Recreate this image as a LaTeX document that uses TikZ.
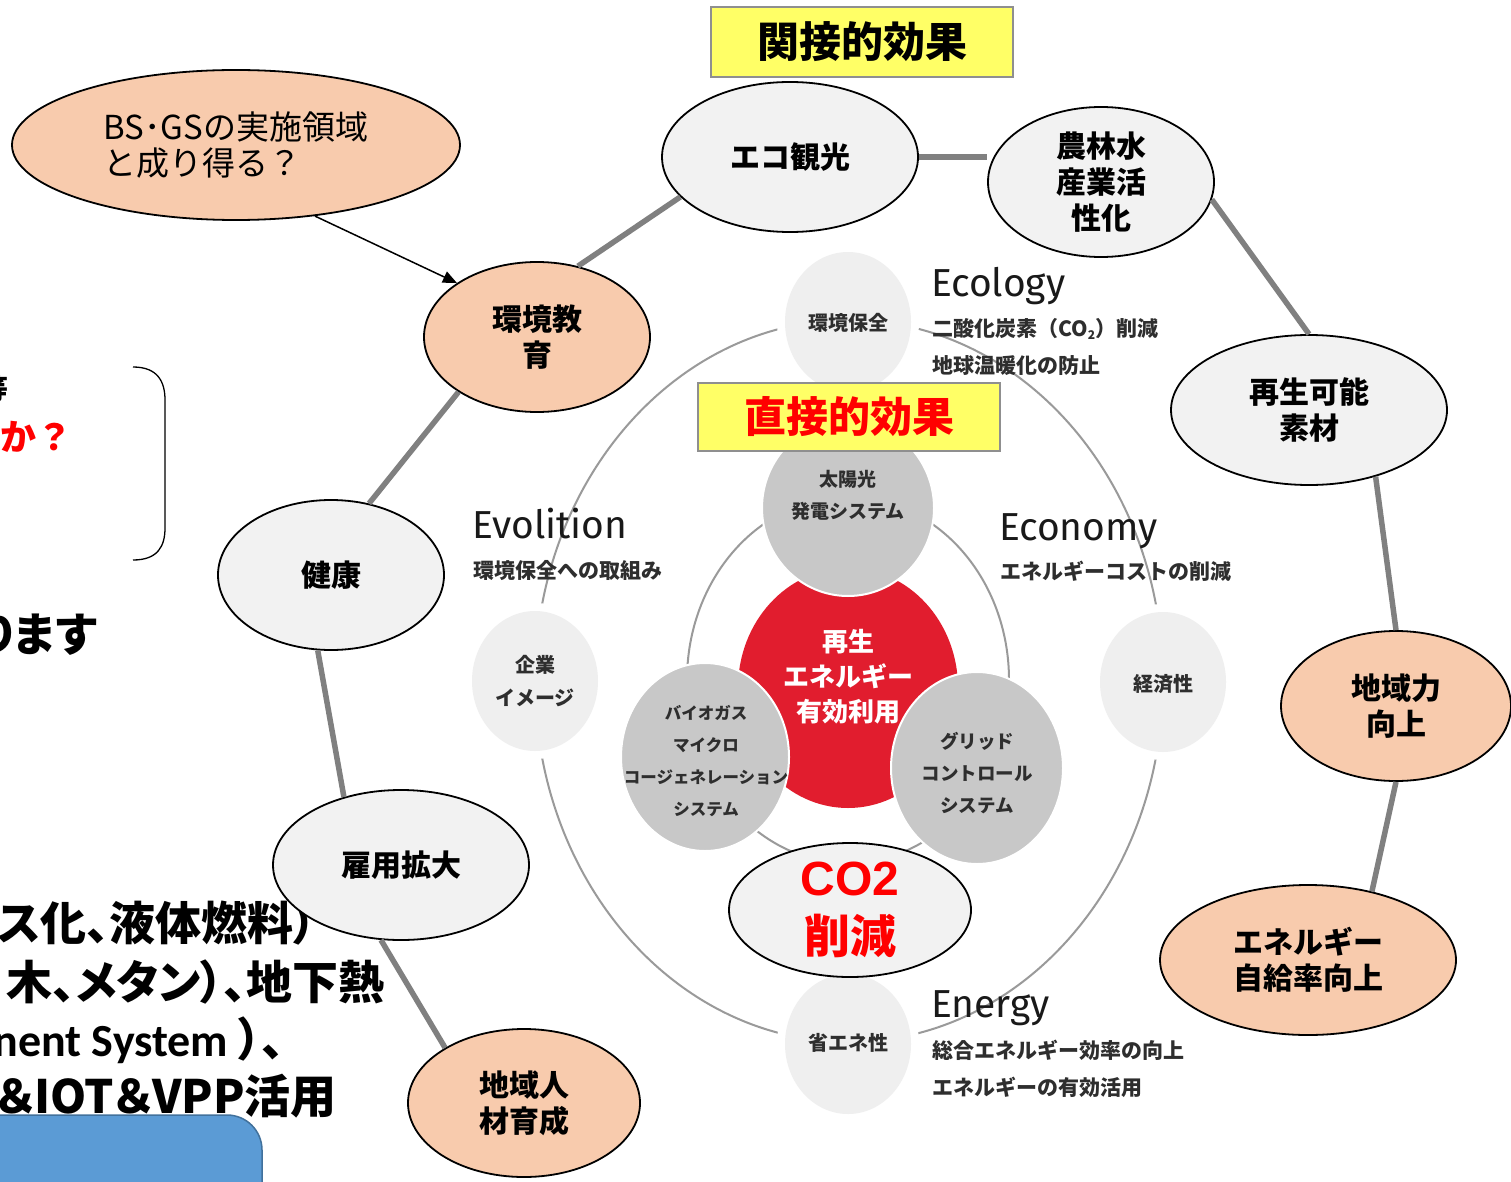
\documentclass[tikz,border=0pt]{standalone}
\usepackage{fontspec}
\usetikzlibrary{shapes.geometric,arrows.meta}
\newfontfamily\jp{Noto Sans CJK JP}
\newfontfamily\jpp{Noto Sans CJK JP}[RawFeature=+palt]
\newfontfamily\dinf{Fira Sans}
\newfontfamily\arialf{Liberation Sans}
\newfontfamily\calf{Carlito}
\newcommand\myfs[2]{\fontsize{#1pt}{#2pt}\selectfont}
\definecolor{peach}{HTML}{F8CBAD}
\definecolor{ovgray}{HTML}{F2F2F2}
\definecolor{linkgray}{HTML}{808080}
\definecolor{yel}{HTML}{FFFF66}
\definecolor{boxgray}{HTML}{8F8F8F}
\definecolor{bluec}{HTML}{5B9BD5}
\definecolor{bluedk}{HTML}{41719C}
\definecolor{ringc}{HTML}{9A9A9A}
\definecolor{lightc}{HTML}{EFEFEF}
\definecolor{midc}{HTML}{C8C8C8}
\definecolor{redc}{HTML}{E11D2E}
\definecolor{darkt}{HTML}{2E2E2E}
\tikzset{
  oval/.style={ellipse, draw=black, line width=1.8pt, inner sep=0pt, align=center, font={\jp\bfseries\myfs{30}{36}}},
  grayoval/.style={oval, fill=ovgray},
  peachoval/.style={oval, fill=peach},
  link/.style={draw=linkgray, line width=5.5pt},
  ybox/.style={rectangle, draw=boxgray, line width=1.5pt, fill=yel, inner sep=0pt, font={\jp\bfseries\myfs{42}{42}}},
  ctext/.style={inner sep=0pt, align=center, text=darkt, font={\jp\bfseries\myfs{20}{33}}},
  subtext/.style={inner sep=0pt, anchor=west, text=darkt, font={\jp\bfseries\myfs{21}{21}}},
  bigword/.style={inner sep=0pt, anchor=base west, text=black!90, font={\dinf\myfs{39}{39}}},
  lefttxt/.style={inner sep=0pt, anchor=east, font={\jpp\bfseries\myfs{46}{46}}}
}
\begin{document}
\begin{tikzpicture}[x=1pt,y=-1pt]
\useasboundingbox (0,0) rectangle (1511,1182);
\fill[white] (0,0) rectangle (1511,1182);

% left-edge texts (partly outside the page)
\node[lefttxt, font={\jpp\bfseries\myfs{28}{28}}] (l1) at (9,389) {等};
\node[lefttxt, text=red, font={\jp\bfseries\myfs{36}{36}}] (l2) at (73,437) {か？};
\node[lefttxt] (l3) at (97,635) {ります};
\node[lefttxt] (l4) at (294,923) {ス化、液体燃料\rlap{）}};
\node[lefttxt] (l5) at (385,982) {木、メタン）、地下熱};
\node[lefttxt] (l6) at (285,1040) {{\calf\bfseries nent System} ）、};
\node[lefttxt] (l7) at (337,1096) {＆IOT＆VPP活用};

% bracket
\coordinate (bt) at (133,367);
\coordinate (bb) at (133,560);
\draw[line width=1.3pt] (bt) .. controls (158,367) and (165,382) .. (165,400) -- (165,528) .. controls (165,546) and (158,560) .. (bb);

% blue box
\draw[fill=bluec, draw=bluedk, line width=1.5pt, rounded corners=35pt] (-60,1115) rectangle (262,1260);

% central diagram
\draw[ringc, line width=2pt] (849,681) ellipse [x radius=314pt, y radius=361pt];
\foreach \cx/\cy in {848/322, 535/681, 1163/682, 848/1044}{
  \fill[white] (\cx,\cy) ellipse [x radius=71pt, y radius=78pt];
  \fill[lightc] (\cx,\cy) ellipse [x radius=63pt, y radius=70pt];
}
\draw[ringc, line width=2pt] (848,680) ellipse [x radius=161pt, y radius=183pt];
\fill[redc] (848,688) ellipse [x radius=110pt, y radius=120pt];
\filldraw[fill=midc, draw=white, line width=2pt] (848,508) ellipse [x radius=86pt, y radius=88pt];
\filldraw[fill=midc, draw=white, line width=2pt] (705,757) ellipse [x radius=84pt, y radius=94pt];
\filldraw[fill=midc, draw=white, line width=2pt] (977,768) ellipse [x radius=86pt, y radius=96pt];

\node[ctext] (hozen) at (848,323) {環境保全};
\node[ctext] (kigyo) at (535,681) {企業\\イメージ};
\node[ctext] (keizai) at (1163,684) {経済性};
\node[ctext] (shoene) at (848,1043) {省エネ性};
\node[ctext, font={\jp\bfseries\myfs{19}{32}}] (taiyo) at (848,495) {太陽光\\発電システム};
\node[ctext, text=white, font={\jp\bfseries\myfs{26}{35}}] (saien) at (848,677) {再生\\エネルギー\\有効利用};
\node[ctext, font={\jp\bfseries\myfs{16.5}{32}}] (bio) at (706,761) {バイオガス\\マイクロ\\コージェネレーション\\システム};
\node[ctext, font={\jp\bfseries\myfs{18.5}{32}}] (grid) at (977,773) {グリッド\\コントロール\\システム};

\node[bigword] (ecol) at (931,296) {Ecology};
\node[subtext] (ecol1) at (932,329) {二酸化炭素（CO\raisebox{-3pt}{\myfs{12}{12}2}）削減};
\node[subtext] (ecol2) at (932,366) {地球温暖化の防止};
\node[bigword] (evol) at (472,538) {Evolition};
\node[subtext] (evol1) at (473,571) {環境保全への取組み};
\node[bigword] (econ) at (999,540) {Economy};
\node[subtext] (econ1) at (1000,571) {エネルギーコストの削減};
\node[bigword] (ener) at (931,1017) {Energy};
\node[subtext] (ener1) at (932,1050) {総合エネルギー効率の向上};
\node[subtext] (ener2) at (932,1087) {エネルギーの有効活用};

% outer ellipses
\node[peachoval, minimum width=448pt, minimum height=150pt, font={\jp\myfs{33}{36}}, align=left] (bs) at (236,145) {BS･GSの実施領域\\と成り得る？};
\node[grayoval, minimum width=256pt, minimum height=150pt] (eco) at (790,157) {エコ観光};
\node[grayoval, minimum width=226pt, minimum height=150pt] (noh) at (1101,182) {農林水\\産業活\\性化};
\node[peachoval, minimum width=226pt, minimum height=150pt] (kankyo) at (537,337) {環境教\\育};
\node[grayoval, minimum width=276pt, minimum height=150pt] (saisei) at (1309,410) {再生可能\\素材};
\node[grayoval, minimum width=226pt, minimum height=150pt] (kenkou) at (331,575) {健康};
\node[peachoval, minimum width=230pt, minimum height=150pt] (chiiki) at (1396,706) {地域力\\向上};
\node[grayoval, minimum width=256pt, minimum height=150pt] (koyou) at (401,865) {雇用拡大};
\node[grayoval, minimum width=242pt, minimum height=134pt] (co2) at (850,910) {};
\node[inner sep=0pt, align=center, text=red, font={\jp\bfseries\myfs{46}{58}}] (co2t) at (850,910) {{\arialf\bfseries\myfs{48}{58}CO2}\\削減};
\node[peachoval, minimum width=296pt, minimum height=150pt] (jikyu) at (1308,960) {エネルギー\\自給率向上};
\node[peachoval, minimum width=232pt, minimum height=148pt] (jinzai) at (524,1103) {地域人\\材育成};

% connectors
\draw[link] (eco.200) -- (kankyo.60);
\draw[link] (eco.east) -- (eco.east -| noh.west);
\draw[link] (noh.-9) -- (saisei.north);
\draw[link] (saisei.-45) -- (chiiki.north);
\draw[link] (chiiki.south) -- (jikyu.47);
\draw[link] (kankyo.215) -- (kenkou.62);
\draw[link] (kenkou.-100) -- (koyou.130);
\draw[link] (koyou.-105) -- (jinzai.145);
\draw[-{Triangle[length=14pt,width=12pt]}, line width=1.5pt] (bs.-42) -- (kankyo.146);

% yellow title boxes
\node[ybox, minimum width=302pt, minimum height=70pt] (kan) at (862,42) {関接的効果};
\node[ybox, minimum width=302pt, minimum height=68pt, text=red] (choku) at (849,417) {直接的効果};
\end{tikzpicture}
\end{document}
